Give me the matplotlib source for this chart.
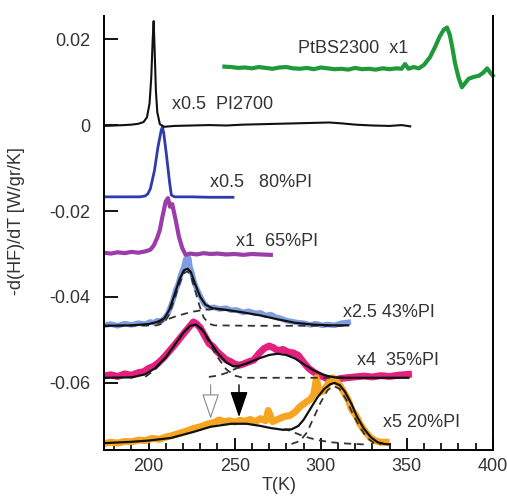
import matplotlib
matplotlib.use("Agg")
from matplotlib import pyplot as plt
from matplotlib.patches import FancyArrowPatch
from matplotlib.ticker import MultipleLocator

plt.rcParams['font.family'] = ['Liberation Sans', 'DejaVu Sans']

# PI2700, x0.5 (black)
t_pi = [174, 180, 186, 190, 194, 197, 199, 200.5, 201.5, 202.3, 202.9, 203.5, 204.2, 205, 206.5, 209,
        215, 225, 235, 245, 255, 265, 275, 285, 295, 305, 312, 320, 330, 340, 347, 352]
y_pi = [-0.0002, -0.0001, 0.0, 0.0001, 0.0003, 0.0007, 0.0018, 0.0050, 0.0110, 0.0195, 0.0242, 0.0170,
        0.0080, 0.0030, 0.0002, -0.0004, -0.0002, -0.0001, 0.0, -0.0001, 0.0001, 0.0002, 0.0003, 0.0004,
        0.0005, 0.0006, 0.0004, 0.0001, -0.0001, -0.0002, 0.0, -0.0003]

# 80%PI, x0.5 (blue)
t_80 = [174, 185, 195, 198, 199.5, 201, 203.4, 205.4, 207.3, 208.0, 208.8, 210.2, 211.2, 212.2, 213.2,
        215, 225, 235, 249]
y_80 = [-0.0167, -0.0167, -0.0167, -0.0165, -0.0160, -0.0148, -0.0105, -0.0051, -0.0012, -0.0004, -0.0020,
        -0.0065, -0.0100, -0.0135, -0.0163, -0.0167, -0.0167, -0.0168, -0.0168]

# 65%PI, x1 (purple)
t_65 = [174, 178, 182, 186, 190, 194, 198, 201, 203, 205, 206.5, 208, 209.9, 211.2, 212.4, 213.7, 215.7,
        217.6, 219.5, 221.5, 224, 228, 232, 236, 240, 245, 250, 255, 260, 265, 271]
y_65 = [-0.0297, -0.0299, -0.0296, -0.0298, -0.0295, -0.0297, -0.0294, -0.0290, -0.0280, -0.0262, -0.0244,
        -0.0213, -0.0178, -0.0170, -0.0190, -0.0184, -0.0221, -0.0260, -0.0286, -0.0302, -0.0299, -0.0301,
        -0.0298, -0.0300, -0.0299, -0.0301, -0.0300, -0.0302, -0.0300, -0.0301, -0.0302]

# 43%PI, x2.5: data, fit and components
t_43 = [174, 178, 182, 186, 190, 194, 198, 201, 203, 205, 207, 209, 211, 212.8, 214.3, 215.7, 217.2, 218.6,
        220.5, 221.5, 222.5, 223.3, 224, 225.2, 226.3, 227.8, 229.2, 230.7, 232.1, 233.5, 235, 238, 241, 245,
        248, 251, 255, 258, 262, 265, 268, 271, 274, 277, 280, 283, 287, 290, 294, 297, 301, 304, 308, 312, 316]
y_43 = [-0.0466, -0.0463, -0.0467, -0.0462, -0.0465, -0.0461, -0.0463, -0.0458, -0.0460, -0.0455, -0.0457,
        -0.0450, -0.0440, -0.0422, -0.0405, -0.0384, -0.0370, -0.0349, -0.0330, -0.0312, -0.0318, -0.0310,
        -0.0330, -0.0345, -0.0364, -0.0380, -0.0391, -0.0404, -0.0415, -0.0420, -0.0426, -0.0424, -0.0428,
        -0.0426, -0.0431, -0.0430, -0.0436, -0.0433, -0.0438, -0.0437, -0.0443, -0.0441, -0.0447, -0.0450,
        -0.0455, -0.0457, -0.0460, -0.0461, -0.0465, -0.0462, -0.0466, -0.0464, -0.0466, -0.0461, -0.0459]
t_43fit = [174, 190, 200, 205, 209, 212, 215, 218, 220.5, 222.5, 224.5, 227, 230, 233, 237, 245, 255, 265,
           275, 285, 295, 305, 316]
y_43fit = [-0.0467, -0.0466, -0.0463, -0.0458, -0.0450, -0.0430, -0.0395, -0.0358, -0.0338, -0.0334, -0.0342,
           -0.0370, -0.0400, -0.0418, -0.0426, -0.0430, -0.0436, -0.0443, -0.0452, -0.0460, -0.0464, -0.0466,
           -0.0466]
t_43a = [174, 205, 209, 212, 215, 218, 220.5, 222.5, 224.5, 227, 229.5, 232, 235, 238, 260, 316]
y_43a = [-0.0467, -0.0466, -0.0460, -0.0440, -0.0405, -0.0368, -0.0345, -0.0340, -0.0350, -0.0385, -0.0420,
         -0.0448, -0.0462, -0.0466, -0.0467, -0.0467]
t_43b = [205, 209, 215, 221, 226, 232, 237, 245]
y_43b = [-0.0462, -0.0455, -0.0446, -0.0439, -0.0434, -0.0430, -0.0428, -0.0430]

# 35%PI, x4
t_35 = [174, 178, 182, 186, 190, 194, 197, 200, 203, 206, 209, 212, 215, 218, 221, 223.5, 226, 228, 230,
        232.5, 235, 237.5, 240, 242.5, 245, 247.5, 250, 252.5, 255, 258, 261, 264, 267, 270, 272.5, 275, 278,
        281, 284, 287, 290, 293, 296, 299, 302, 305, 308, 311, 315, 320, 325, 330, 335, 340, 345, 351]
y_35 = [-0.0584, -0.0581, -0.0585, -0.0579, -0.0582, -0.0576, -0.0574, -0.0566, -0.0561, -0.0552, -0.0540,
        -0.0526, -0.0512, -0.0497, -0.0482, -0.0470, -0.0458, -0.0463, -0.0472, -0.0490, -0.0508, -0.0516,
        -0.0528, -0.0537, -0.0546, -0.0550, -0.0556, -0.0559, -0.0556, -0.0551, -0.0547, -0.0532, -0.0520,
        -0.0514, -0.0518, -0.0525, -0.0522, -0.0528, -0.0530, -0.0536, -0.0552, -0.0566, -0.0575, -0.0582,
        -0.0587, -0.0592, -0.0594, -0.0590, -0.0588, -0.0586, -0.0584, -0.0586, -0.0583, -0.0585, -0.0582,
        -0.0580]
t_35fit = [174, 190, 198, 204, 210, 215, 220, 224, 227.5, 231, 235, 240, 245, 249, 253, 258, 264, 270, 275,
           280, 285, 290, 296, 302, 308, 315, 330, 351]
y_35fit = [-0.0588, -0.0587, -0.0580, -0.0565, -0.0540, -0.0512, -0.0484, -0.0467, -0.0464, -0.0475, -0.0500,
           -0.0530, -0.0552, -0.0561, -0.0560, -0.0553, -0.0543, -0.0535, -0.0532, -0.0535, -0.0543, -0.0556,
           -0.0571, -0.0582, -0.0587, -0.0588, -0.0588, -0.0588]
t_35a = [198, 204, 210, 215, 220, 224, 227.5, 231, 235, 240, 245, 250, 255, 315]
y_35a = [-0.0586, -0.0568, -0.0542, -0.0513, -0.0485, -0.0468, -0.0465, -0.0478, -0.0505, -0.0540, -0.0568,
         -0.0583, -0.0588, -0.0588]
t_35b = [235, 240, 245, 251, 258, 264]
y_35b = [-0.0586, -0.0583, -0.0577, -0.0566, -0.0554, -0.0544]

# 20%PI, x5
t_20 = [174, 178, 182, 186, 190, 194, 198, 202, 206, 210, 214, 218, 222, 226, 230, 234, 238, 241, 244, 247,
        250, 253, 256, 259, 262, 265, 268, 269.5, 272, 276, 279, 282, 285, 288, 291, 294, 296, 297.5, 299,
        301, 303, 305, 307, 309, 311, 313.5, 316, 318, 320.5, 323, 326, 329, 332, 335, 338]
y_20 = [-0.0741, -0.0738, -0.0740, -0.0736, -0.0737, -0.0733, -0.0734, -0.0729, -0.0731, -0.0726, -0.0722,
        -0.0717, -0.0712, -0.0706, -0.0702, -0.0696, -0.0692, -0.0686, -0.0690, -0.0688, -0.0691, -0.0687,
        -0.0689, -0.0685, -0.0690, -0.0683, -0.0688, -0.0664, -0.0690, -0.0683, -0.0678, -0.0676, -0.0668,
        -0.0655, -0.0646, -0.0638, -0.0626, -0.0588, -0.0622, -0.0620, -0.0610, -0.0598, -0.0588, -0.0596,
        -0.0605, -0.0622, -0.0640, -0.0662, -0.0676, -0.0697, -0.0714, -0.0728, -0.0735, -0.0738, -0.0738]
t_20fit = [174, 190, 200, 213, 226, 236, 248, 257, 265, 271, 278, 283, 287, 290, 294, 298, 302, 305.5, 308,
           311, 314, 318, 321, 325, 329, 333, 337, 340]
y_20fit = [-0.0740, -0.0737, -0.0734, -0.0728, -0.0714, -0.0702, -0.0695, -0.0695, -0.0700, -0.0705, -0.0709,
           -0.0708, -0.0700, -0.0686, -0.0660, -0.0634, -0.0614, -0.0603, -0.0600, -0.0605, -0.0620, -0.0650,
           -0.0678, -0.0706, -0.0726, -0.0738, -0.0742, -0.0743]
t_20a = [283, 288, 292, 296, 300, 304, 307.5, 311, 315, 319, 323, 327, 331, 335]
y_20a = [-0.0742, -0.0735, -0.0715, -0.0680, -0.0645, -0.0617, -0.0607, -0.0614, -0.0640, -0.0675, -0.0705,
         -0.0728, -0.0740, -0.0743]
t_20b = [278, 280, 285, 290, 298, 306, 315, 325]
y_20b = [-0.0709, -0.0708, -0.0716, -0.0724, -0.0733, -0.0738, -0.0741, -0.0743]

# PtBS2300, x1 (green)
t_pt = [244, 248, 252, 256, 260, 264, 268, 272, 276, 280, 284, 288, 292, 296, 300, 304, 308, 312, 316, 320,
        324, 328, 332, 336, 340, 344, 347, 349, 351, 354, 357, 360, 363.5, 366.5, 369, 371.5, 373.4, 375,
        376.5, 378, 380, 382, 384, 386, 389, 392, 394.5, 396.7, 398.5, 400]
y_pt = [0.0136, 0.0135, 0.0133, 0.0134, 0.0132, 0.0135, 0.0133, 0.0131, 0.0134, 0.0135, 0.0132, 0.0131,
        0.0133, 0.0130, 0.0134, 0.0132, 0.0130, 0.0131, 0.0129, 0.0133, 0.0130, 0.0131, 0.0129, 0.0132,
        0.0130, 0.0132, 0.0131, 0.0142, 0.0131, 0.0135, 0.0132, 0.0140, 0.0158, 0.0182, 0.0205, 0.0222,
        0.0227, 0.0210, 0.0180, 0.0145, 0.0112, 0.0088, 0.0098, 0.0108, 0.0112, 0.0115, 0.0122, 0.0132,
        0.0122, 0.0115]

labels = ["PtBS2300  x1", "x0.5  PI2700", "x0.5   80%PI", "x1  65%PI", "x2.5 43%PI", "x4  35%PI", "x5 20%PI"]
label_pos = [(287, 0.0179), (213.5, 0.0047), (235.5, -0.0133), (251, -0.0272), (313, -0.0437),
             (321, -0.0547), (336, -0.0693)]

fig = plt.figure(figsize=(5.07, 4.97), dpi=100)
ax = fig.add_axes([0.205, 0.0946, 0.767, 0.8734])

# noisy measured curves
ax.plot(t_43, y_43, color="#7f9de2", lw=4, solid_joinstyle="round")
ax.plot(t_35, y_35, color="#e4207f", lw=5, solid_joinstyle="round")
ax.plot(t_20, y_20, color="#f5a520", lw=5, solid_joinstyle="round")

# fit components
for t, y in [(t_43a, y_43a), (t_43b, y_43b), (t_35a, y_35a), (t_35b, y_35b), (t_20a, y_20a), (t_20b, y_20b)]:
    ax.plot(t, y, color="#333333", lw=1.3, ls=(0, (4, 3)))

# fits
ax.plot(t_43fit, y_43fit, color="#111111", lw=1.6)
ax.plot(t_35fit, y_35fit, color="#111111", lw=1.6)
ax.plot(t_20fit, y_20fit, color="#111111", lw=1.6)

ax.plot(t_65, y_65, color="#9a3da8", lw=3)
ax.plot(t_80, y_80, color="#2f3aac", lw=2)
ax.plot(t_pi, y_pi, color="#111111", lw=1.5)
ax.plot(t_pt, y_pt, color="#1f9a3a", lw=3, clip_on=False)

for s, (x, y) in zip(labels, label_pos):
    ax.text(x, y, s, fontsize=13, color="#333333", va="center", ha="left")

# arrows marking the two transitions
ax.add_patch(FancyArrowPatch((236, -0.0598), (236, -0.0690), arrowstyle="-|>,head_length=16,head_width=5.5",
                             mutation_scale=1, lw=0.8, ec="#888888", fc="white"))
ax.add_patch(FancyArrowPatch((252.5, -0.0598), (252.5, -0.0686), arrowstyle="-|>,head_length=16,head_width=5.5",
                             mutation_scale=1, lw=1.0, ec="black", fc="black"))

ax.set_xlim(174, 400)
ax.set_ylim(-0.0756, 0.0254)
ax.xaxis.set_major_locator(MultipleLocator(50))
ax.xaxis.set_minor_locator(MultipleLocator(10))
ax.set_yticks([0.02, 0, -0.02, -0.04, -0.06])
ax.set_yticklabels(["0.02", "0", "-0.02", "-0.04", "-0.06"])
ax.tick_params(axis="both", which="major", direction="in", width=1.3, labelsize=13, labelcolor="#333333")
ax.tick_params(axis="y", length=10, pad=9.5)
ax.tick_params(axis="x", length=9, pad=6)
ax.tick_params(axis="x", which="minor", direction="in", length=5, width=1.2)
ax.spines["top"].set_visible(False)
for side in ["left", "right", "bottom"]:
    ax.spines[side].set_linewidth(1.4)

ax.set_xlabel("T(K)", fontsize=13, color="#333333")
ax.set_ylabel("-d(HF)/dT [W/gr/K]", fontsize=13, color="#333333")
ax.xaxis.set_label_coords(0.45, -0.062)
ax.yaxis.set_label_coords(-0.203, 0.528)

fig.savefig("out.png", dpi=100)
